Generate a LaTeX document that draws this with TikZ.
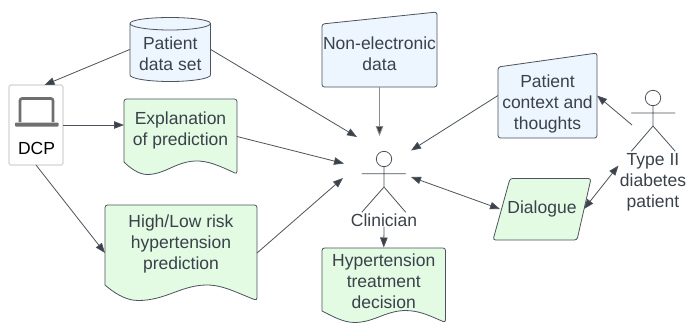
\documentclass[tikz,border=0pt]{standalone}
\usepackage{fontspec}
\setmainfont{Liberation Sans}
\usetikzlibrary{arrows.meta}
\definecolor{ink}{HTML}{3A414A}
\definecolor{edge}{HTML}{4C535D}
\definecolor{bluefill}{HTML}{EDF5FF}
\definecolor{greenfill}{HTML}{E3FAE3}
\definecolor{icon}{HTML}{6F6F6F}
\tikzset{
  x=1pt,y=-1pt,
  bluebox/.style={draw=edge,fill=bluefill,line width=0.8pt,line join=round,rounded corners=2.5pt},
  greenbox/.style={draw=edge,fill=greenfill,line width=0.8pt,line join=round,rounded corners=2.5pt},
  anchorbox/.style={inner sep=0pt,outer sep=0pt,minimum width=#1},
  label/.style={text=ink,align=center,inner sep=0pt,font=\fontsize{17.5}{21}\selectfont},
  conn/.style={draw=edge,line width=0.8pt,-{Triangle[length=10pt,width=7.5pt,fill=ink]}},
  conn2/.style={draw=edge,line width=0.8pt,{Triangle[length=10pt,width=7.5pt,fill=ink]}-{Triangle[length=10pt,width=7.5pt,fill=ink]}},
  actor/.style={draw=edge,line width=0.8pt,line cap=round}
}
\begin{document}
\begin{tikzpicture}
\useasboundingbox (0,0) rectangle (687,322);
\clip (0,0) rectangle (687,322);
\fill[white] (0,0) rectangle (687,322);

% Cylinder
\draw[bluebox,rounded corners=0pt] (130,23.5) -- (130,75) .. controls (130,78.5) and (148,81.5) .. (170,81.5) .. controls (192,81.5) and (210.5,78.5) .. (210.5,75) -- (210.5,23.5) .. controls (210.5,20) and (192,17.5) .. (170,17.5) .. controls (148,17.5) and (130,20) .. (130,23.5) .. controls (130,27) and (148,30) .. (170,30) .. controls (192,30) and (210.5,27) .. (210.5,23.5);
\node[anchorbox=81,minimum height=64] (cyl) at (170.25,49.5) {};
\node[label] (cyltext) at (170.25,54) {Patient\\data set};

% DCP
\node[draw=black!30,fill=white,line width=0.6pt,rounded corners=1.5pt,minimum width=54,minimum height=80,inner sep=0pt,outer sep=0pt] (dcp) at (36,125) {};
\draw[draw=icon,line width=2.6pt,rounded corners=2pt] (20,122) -- (20,98.5) -- (53,98.5) -- (53,122);
\fill[icon,rounded corners=0.8pt] (15,122.5) rectangle (58.5,126.5);
\node[text=black,inner sep=0pt,font=\fontsize{17.5}{21}\selectfont] (dcptext) at (36.5,148.5) {DCP};

% Explanation
\draw[greenbox] (124,162) -- (124,99) -- (237,99) -- (237,174) [sharp corners] .. controls (220,166) and (208,160.5) .. (195,161) .. controls (175,162) and (165,174.5) .. (147,174.5) .. controls (139,174.5) and (130,168) .. (124,162) -- cycle;
\node[anchorbox=113,minimum height=75] (expl) at (180.5,136.5) {};
\node[label] (expltext) at (180.5,130) {Explanation\\of prediction};

% High/Low
\draw[greenbox] (105,285) -- (105,205) -- (257,205) -- (257,300.5) [sharp corners] .. controls (235,292) and (222,284.5) .. (205,285) .. controls (180,286) and (165,300.5) .. (138,300.5) .. controls (125,300.5) and (113,292) .. (105,285) -- cycle;
\node[anchorbox=152,minimum height=96] (high) at (181,253) {};
\node[label] (hightext) at (181,244) {High/Low risk\\hypertension\\prediction};

% Non-electronic
\draw[bluebox] (322,24) -- (437,12) -- (437,87) -- (322,87) -- cycle;
\node[anchorbox=115,minimum height=75] (nonel) at (379.5,49.5) {};
\node[label] (noneltext) at (379.5,53.5) {Non-electronic\\data};

% Patient context
\draw[bluebox] (498,67) -- (597,53) -- (597,138) -- (498,138) -- cycle;
\node[anchorbox=99,minimum height=85] (ctx) at (547.5,95.5) {};
\node[label] (ctxtext) at (547.5,104) {Patient\\context and\\thoughts};

% Dialogue
\draw[greenbox] (510,178.5) -- (591,178.5) -- (577,240) -- (493,240) -- cycle;
\node[anchorbox=84,minimum height=61] (dlg) at (542,209) {};
\node[label] (dlgtext) at (542,209) {Dialogue};

% Hypertension decision
\draw[greenbox] (322,311) -- (322,248) -- (445.5,248) -- (445.5,322.5) [sharp corners] .. controls (430,316) and (420,310.5) .. (405,310.5) .. controls (385,311) and (375,322) .. (355,322.5) .. controls (343,322.5) and (332,316) .. (322,311) -- cycle;
\node[anchorbox=123,minimum height=75] (hyp) at (383.75,285) {};
\node[label] (hyptext) at (383.75,281) {Hypertension\\treatment\\decision};

% Clinician
\draw[actor] (384,159) circle (7.7);
\draw[actor] (362,173.7) -- (405.5,173.7) (384,166.7) -- (384,187) (362,212) -- (384,187) -- (405.5,212);
\node[label] (clin) at (384,220) {Clinician};
\coordinate (clinNW) at (357,137);
\coordinate (clinW) at (344,163.5);
\coordinate (clinSW) at (343,178);
\coordinate (clinN) at (379.5,136);
\coordinate (clinNE) at (411,150.5);
\coordinate (clinE) at (411,177);

% Patient
\draw[actor] (653,98) circle (7.7);
\draw[actor] (631.5,113) -- (675,113) (653,105.7) -- (653,126) (631.5,151) -- (653,126) -- (675,151);
\node[label] (pat) at (653,182.5) {Type II\\diabetes\\patient};
\coordinate (patW) at (632,125);
\coordinate (patSW) at (618.5,165.5);

% Connectors
\draw[conn] (cyl.west) -- (dcp.78);
\draw[conn] (cyl.east) -- (clinNW);
\draw[conn] (dcp.east) -- (dcp.east -| expl.west);
\draw[conn] (dcp.south) -- (high.west);
\draw[conn] (expl.east) -- (clinW);
\draw[conn] (high.east) -- (clinSW);
\draw[conn,draw=black!45] (nonel.south) -- (clinN);
\draw[conn] (ctx.west) -- (clinNE);
\draw[conn] (patW) -- (ctx.east);
\draw[conn2] (clinE) -- (dlg.west);
\draw[conn2] (dlg.east) -- (patSW);
\draw[conn] (clin.south) -- (hyp.north);
\end{tikzpicture}
\end{document}
